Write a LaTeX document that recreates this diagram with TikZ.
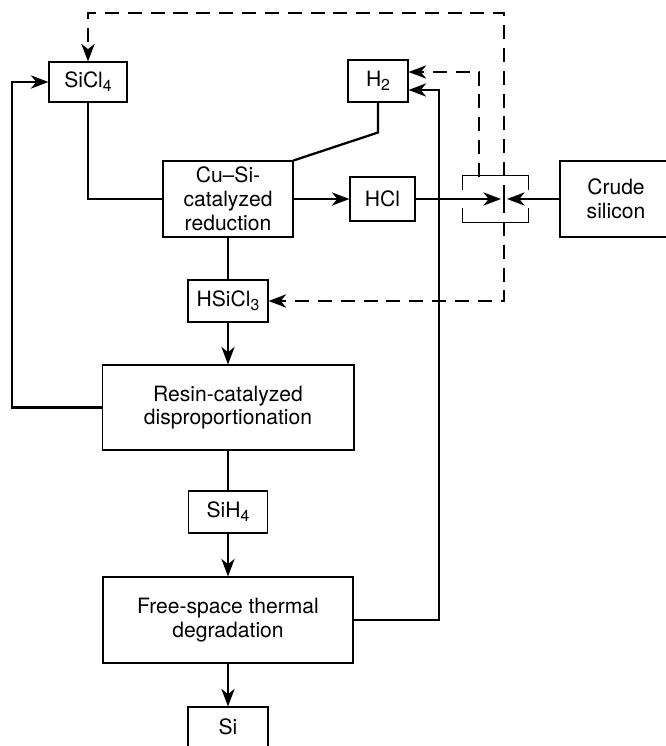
\documentclass[tikz,border=0pt]{standalone}
\usepackage{fontspec}
\setmainfont{TeX Gyre Heros}
\usetikzlibrary{arrows.meta}
\newcommand{\chemsub}[1]{\raisebox{-2.4pt}{\fontsize{9}{9}\selectfont #1}}

\begin{document}
\begin{tikzpicture}[x=0.02cm,y=-0.02cm,line width=1.3pt,
  >={Stealth[length=10pt,width=7.5pt,inset=3pt]},
  font=\fontsize{12}{13.5}\selectfont]
  \tikzstyle{block} = [draw,line width=0.6pt,align=center,inner sep=0pt]
  \tikzstyle{recycle} = [draw,line width=1.4pt,dash pattern=on 8pt off 5pt]
  \useasboundingbox (0,0) rectangle (665,746);

  \node[block,minimum width=1.56cm,minimum height=0.8cm]   (SiCl)   at (88,82)     {SiCl\chemsub{4}};
  \node[block,minimum width=1.2cm,minimum height=0.84cm]   (H2)     at (378,81)    {H\chemsub{2}};
  \node[block,minimum width=2.6cm,minimum height=1.52cm]   (CuSi)   at (228,199)   {Cu--Si-\\catalyzed\\reduction};
  \node[block,minimum width=1.3cm,minimum height=0.88cm]   (HCl)    at (382.5,199) {HCl};
  \node[minimum width=1.26cm,minimum height=0.88cm,inner sep=0pt] (J) at (495.5,199) {};
  \node[block,minimum width=2.24cm,minimum height=1.52cm]  (Crude)  at (616,199)   {Crude\\silicon};
  \node[block,minimum width=1.6cm,minimum height=0.84cm]   (HSiCl)  at (228,301)   {HSiCl\chemsub{3}};
  \node[block,minimum width=5.04cm,minimum height=1.7cm]   (Resin)  at (228,407.5) {Resin-catalyzed\\disproportionation};
  \node[block,minimum width=1.58cm,minimum height=0.84cm]  (SiH)    at (228,512)   {SiH\chemsub{4}};
  \node[block,minimum width=5.0cm,minimum height=1.72cm]   (Free)   at (228,620)   {Free-space thermal\\degradation};
  \node[block,minimum width=1.6cm,minimum height=0.8cm]    (Si)     at (228,727)   {Si};

  \coordinate (jin)  at (501,199);
  \coordinate (jout) at (507,199);
  \coordinate (jd)   at (504,199);
  \coordinate (top)  at (504,13);
  \coordinate (h2d)  at (479,177);

  % junction vessel
  \draw[line width=0.6pt] (J.north west) ++(0,14) -- (J.north west) -- (J.north east) -- ++(0,14);
  \draw[line width=0.6pt] (J.south west) ++(0,-14) -- (J.south west) -- (J.south east) -- ++(0,-14);

  % main flow
  \draw (SiCl) -- (SiCl|-CuSi) -- (CuSi);
  \draw (H2.south) -- ++(0,30) -- (CuSi.north east);
  \path[->] (CuSi) edge (HCl);
  \draw[->] (HCl) -- (jin);
  \draw[->] (Crude) -- (jout);
  \path (CuSi) edge (HSiCl);
  \path[->] (HSiCl) edge (Resin);
  \path (Resin) edge (SiH);
  \path[->] (SiH) edge (Free);
  \path[->] (Free) edge (Si);
  \draw[->] (Resin) -- (Resin-|12,0) |- (SiCl);
  \draw[->] (Free) -- (Free-|439,0) |- ([yshift=-0.18cm]H2.east);

  % recycle streams
  \draw[recycle,->] (jd) -- (top) -- (SiCl|-top) -- (SiCl);
  \draw[recycle,->] (jd) -- (jd|-HSiCl) -- (HSiCl);
  \draw[recycle,->] (h2d) |- ([yshift=0.18cm]H2.east);
\end{tikzpicture}
\end{document}
